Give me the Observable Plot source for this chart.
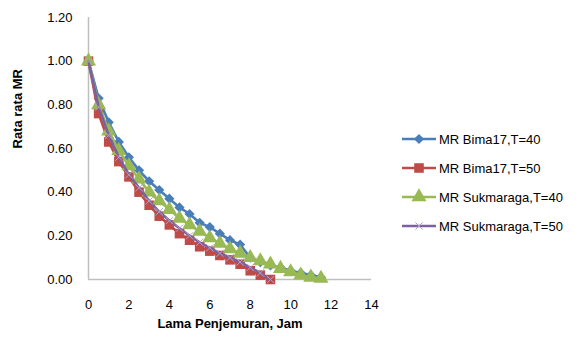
<!DOCTYPE html>
<html>
<head>
<meta charset="utf-8">
<script src="https://cdn.jsdelivr.net/npm/d3@7"></script>
<script src="https://cdn.jsdelivr.net/npm/@observablehq/plot@0.6"></script>
<style>
  body { margin: 0; background: #fff; }
  #wrap { position: relative; width: 584px; height: 345px; font-family: "Liberation Sans", Arial, sans-serif; }
  #legend { position: absolute; left: 0; top: 0; }
  .item { position: absolute; display: flex; align-items: center; font-size: 13px; color: #000; white-space: nowrap; }
  .item svg { margin-right: 2px; }
</style>
</head>
<body>
<div id="wrap"><div id="legend"></div></div>
<script>
// Drying time (hours)
const hoursLong = [0, 0.5, 1, 1.5, 2, 2.5, 3, 3.5, 4, 4.5, 5, 5.5, 6, 6.5, 7, 7.5, 8, 8.5, 9, 9.5, 10, 10.5, 11, 11.5];
const hoursShort = [0, 0.5, 1, 1.5, 2, 2.5, 3, 3.5, 4, 4.5, 5, 5.5, 6, 6.5, 7, 7.5, 8, 8.5, 9];

// Average moisture ratio per series
const bima40 = [1.00, 0.83, 0.72, 0.63, 0.56, 0.50, 0.45, 0.41, 0.37, 0.33, 0.30, 0.26, 0.24, 0.21, 0.18, 0.16, 0.10, 0.08, 0.065, 0.055, 0.04, 0.03, 0.02, 0.01];
const bima50 = [1.00, 0.76, 0.63, 0.54, 0.47, 0.40, 0.34, 0.29, 0.25, 0.21, 0.18, 0.15, 0.13, 0.11, 0.09, 0.07, 0.04, 0.02, 0.00];
const suk40  = [1.00, 0.80, 0.68, 0.59, 0.52, 0.46, 0.40, 0.36, 0.32, 0.28, 0.25, 0.22, 0.19, 0.165, 0.14, 0.12, 0.10, 0.085, 0.07, 0.05, 0.035, 0.02, 0.01, 0.005];
const suk50  = [1.00, 0.79, 0.66, 0.56, 0.48, 0.42, 0.36, 0.31, 0.27, 0.235, 0.20, 0.17, 0.145, 0.12, 0.10, 0.08, 0.055, 0.03, 0.00];

const seriesNames = ["MR Bima17,T=40", "MR Bima17,T=50", "MR Sukmaraga,T=40", "MR Sukmaraga,T=50"];
const xTicks = [0, 2, 4, 6, 8, 10, 12, 14];
const yTicks = [0, 0.2, 0.4, 0.6, 0.8, 1.0, 1.2];
const xTitle = "Lama Penjemuran, Jam";
const yTitle = "Rata rata MR";

const styles = [
  {color: "#4a7ebb", symbol: "diamond2", r: 4.6, stroke: null},
  {color: "#be4b48", symbol: "square", r: 5.4, stroke: null},
  {color: "#98b954", symbol: "triangle", r: 5.6, stroke: null},
  {color: "#7d60a0", symbol: "times", r: 3.4, stroke: "#b3a2c7"}
];
const series = [
  {name: seriesNames[0], xs: hoursLong, ys: bima40},
  {name: seriesNames[1], xs: hoursShort, ys: bima50},
  {name: seriesNames[2], xs: hoursLong, ys: suk40},
  {name: seriesNames[3], xs: hoursShort, ys: suk50}
];

const marks = [
  Plot.ruleX([0], {stroke: "#bfbfbf", strokeWidth: 1.5}),
  Plot.ruleY([0], {stroke: "#bfbfbf", strokeWidth: 1.5}),
  Plot.axisX({ticks: xTicks, tickSize: 0, tickPadding: 20, label: null}),
  Plot.axisY({ticks: yTicks, tickSize: 0, tickPadding: 16, tickFormat: d => d.toFixed(2), label: null})
];
series.forEach((s, i) => {
  const rows = s.xs.map((x, j) => ({x, y: s.ys[j]}));
  const st = styles[i];
  marks.push(Plot.line(rows, {x: "x", y: "y", stroke: st.color, strokeWidth: 2.6}));
  if (st.stroke) {
    marks.push(Plot.dot(rows, {x: "x", y: "y", symbol: st.symbol, r: st.r, stroke: st.stroke, strokeWidth: 1}));
  } else {
    marks.push(Plot.dot(rows, {x: "x", y: "y", symbol: st.symbol, r: st.r, fill: st.color}));
  }
});
marks.push(Plot.text([yTitle], {text: d => d, frameAnchor: "left", rotate: -90, dx: -71, fontWeight: "bold", fontSize: 13}));
marks.push(Plot.text([xTitle], {text: d => d, frameAnchor: "bottom", dy: 48, fontWeight: "bold", fontSize: 13}));

const chart = Plot.plot({
  width: 584,
  height: 345,
  marginLeft: 88,
  marginRight: 213,
  marginTop: 17,
  marginBottom: 66,
  x: {domain: [0, 14]},
  y: {domain: [0, 1.2]},
  style: {fontFamily: "Liberation Sans, Arial, sans-serif", fontSize: "13px", color: "#000", background: "#fff"},
  marks
});
chart.style.position = "absolute";
chart.style.left = "0";
chart.style.top = "0";
document.getElementById("wrap").prepend(chart);

// Legend
const legend = document.getElementById("legend");
const legendY = [139, 168, 197, 226];
const symMap = {diamond2: d3.symbolDiamond2, square: d3.symbolSquare, triangle: d3.symbolTriangle, times: d3.symbolTimes};
series.forEach((s, i) => {
  const st = styles[i];
  const item = document.createElement("div");
  item.className = "item";
  item.style.left = "401px";
  item.style.top = (legendY[i] - 9) + "px";
  item.style.height = "18px";
  const size = Math.PI * st.r * st.r;
  const path = d3.symbol(symMap[st.symbol], size)();
  const symEl = st.stroke
    ? `<path d="${path}" transform="translate(18,9)" fill="none" stroke="${st.stroke}" stroke-width="1"/>`
    : `<path d="${path}" transform="translate(18,9)" fill="${st.color}"/>`;
  item.innerHTML = `<svg width="36" height="18"><line x1="1" x2="35" y1="9" y2="9" stroke="${st.color}" stroke-width="2.6"/>${symEl}</svg><span>${s.name}</span>`;
  legend.appendChild(item);
});
</script>
</body>
</html>
